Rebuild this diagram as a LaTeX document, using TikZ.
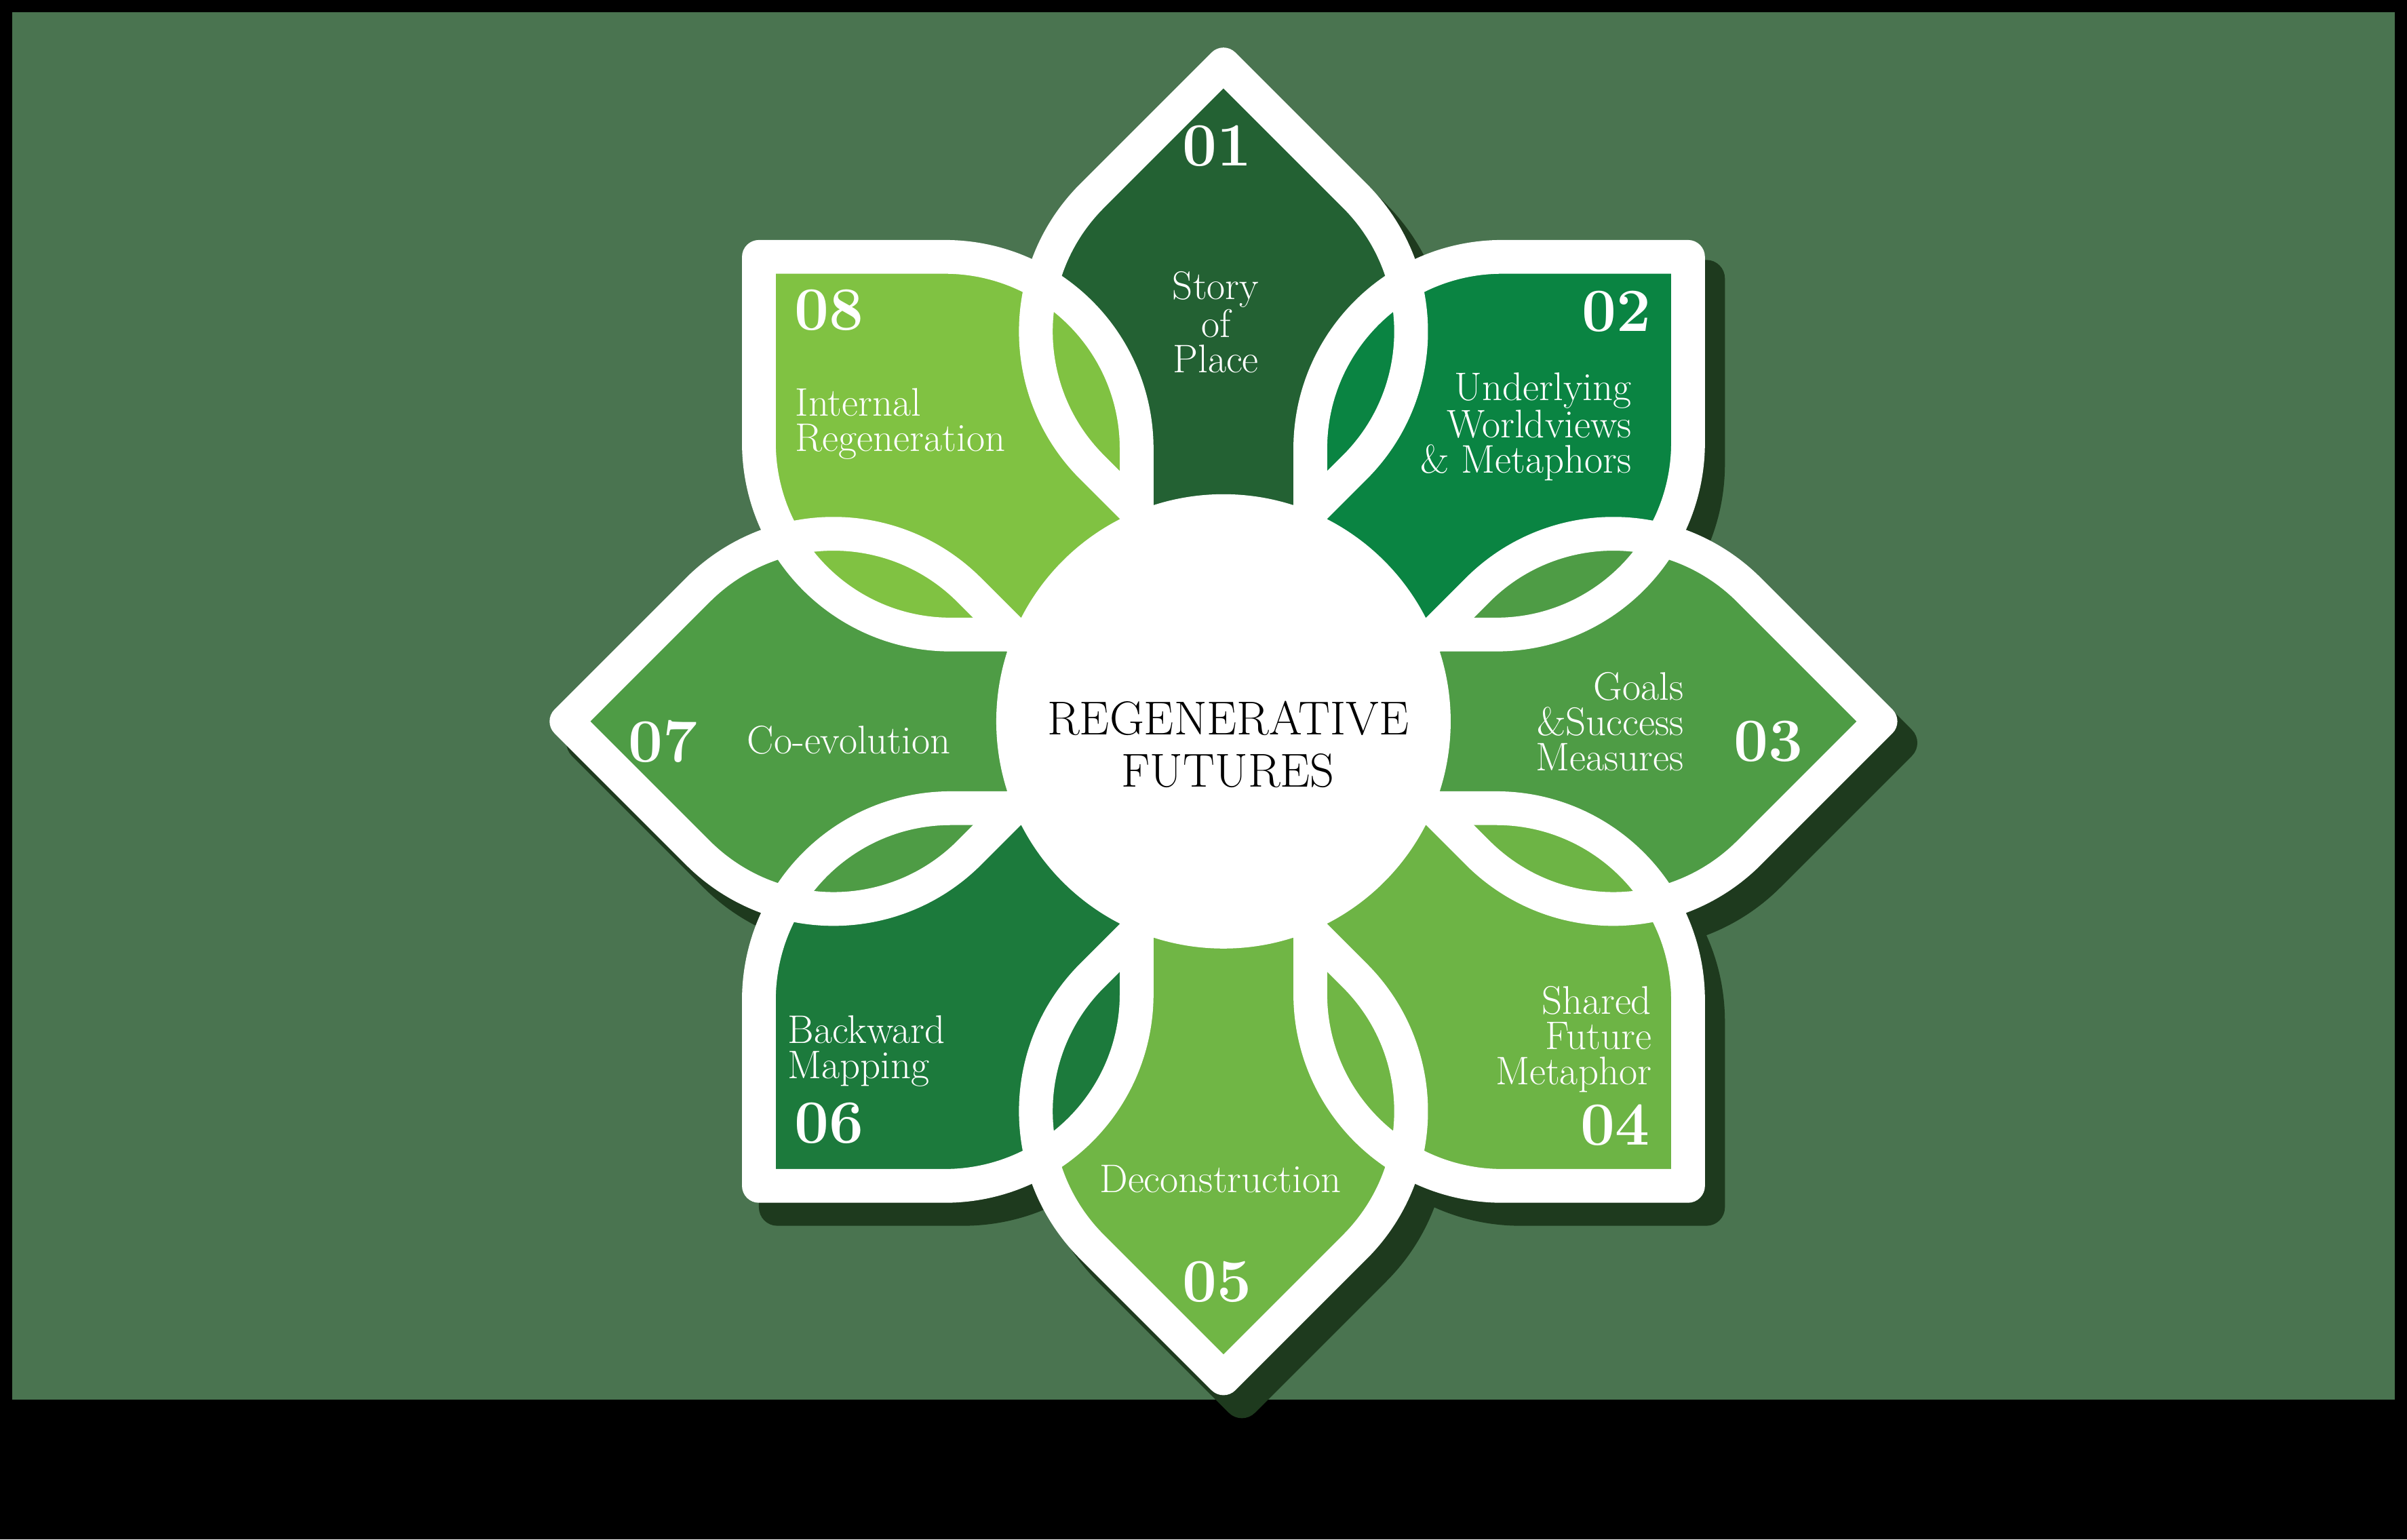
\documentclass[tikz,border=0pt]{standalone}
\usepackage{tikz}
\definecolor{bgGreen}{HTML}{4A7450}
\definecolor{shadowGreen}{HTML}{1E3A1E}
\definecolor{pOne}{HTML}{236133}
\definecolor{pTwo}{HTML}{0A8442}
\definecolor{pThree}{HTML}{4E9C45}
\definecolor{pFour}{HTML}{6DB445}
\definecolor{pFive}{HTML}{70B645}
\definecolor{pSix}{HTML}{1C7A3C}
\definecolor{pSeven}{HTML}{4E9C45}
\definecolor{pEight}{HTML}{80C242}

\begin{document}
\begin{tikzpicture}[x=1pt,y=-1pt,
    petal/.style={insert path={[rounded corners=125pt] (0,-80) -- (-174,-254)
        [sharp corners] -- (0,-428) [rounded corners=125pt] -- (174,-254) [sharp corners] -- cycle}},
    label/.style={text=white,font=\fontsize{26}{23}\selectfont,align=center,inner sep=0pt},
    num/.style={text=white,font=\bfseries\fontsize{40}{40}\selectfont,inner sep=0pt}]
        	\fill[black] (0,0) rectangle (1568,1003);
        	\fill[bgGreen] (8,8) rectangle (1560,912);

        	\begin{scope}[shift={(797,470)}]
        		% shadow and outer white border
        		\foreach \k in {0,...,7} {
        			\filldraw[shadowGreen,line width=24pt,line join=round,shift={(12,14)},rotate=-45*\k,petal];
        		}
        		\foreach \k/\c in {0/pOne,1/pTwo,2/pThree,3/pFour,4/pFive,5/pSix,6/pSeven,7/pEight} {
        			\fill[\c,rotate=-45*\k,petal];
        		}
        		\foreach \k in {0,...,7} {
        			\draw[white,line width=22pt,line join=round,rotate=-45*\k,petal];
        		}
        		\fill[white] (0,0) circle[radius=148];
        	\end{scope}

        	\node[text=black,font=\fontsize{31}{34}\selectfont,align=center] (core) at (800,485) {REGENERATIVE\\FUTURES};

        	\node[num] (n1) at (793,95) {01};
        	\node[num] (n2) at (1053,203) {02};
        	\node[num] (n3) at (1152,483) {03};
        	\node[num] (n4) at (1052,733) {04};
        	\node[num] (n5) at (793,835) {05};
        	\node[num] (n6) at (540,732) {06};
        	\node[num] (n7) at (432,483) {07};
        	\node[num] (n8) at (540,202) {08};

        	\node[label] (t1) at (792,210) {Story\\of\\Place};
        	\node[label,align=right,anchor=east] (t2) at (1063,278) {Underlying\\Worldviews\\\& Metaphors};
        	\node[label,align=right,anchor=east] (t3) at (1097,470) {Goals\\\&Success\\Measures};
        	\node[label,align=right,anchor=east] (t4) at (1076,677) {Shared\\Future\\Metaphor};
        	\node[label] (t5) at (795,768) {Deconstruction};
        	\node[label,align=left,anchor=west] (t6) at (513,685) {Backward\\Mapping};
        	\node[label] (t7) at (553,482) {Co-evolution};
        	\node[label,align=left,anchor=west] (t8) at (518,276) {Internal\\Regeneration};
\end{tikzpicture}
\end{document}
